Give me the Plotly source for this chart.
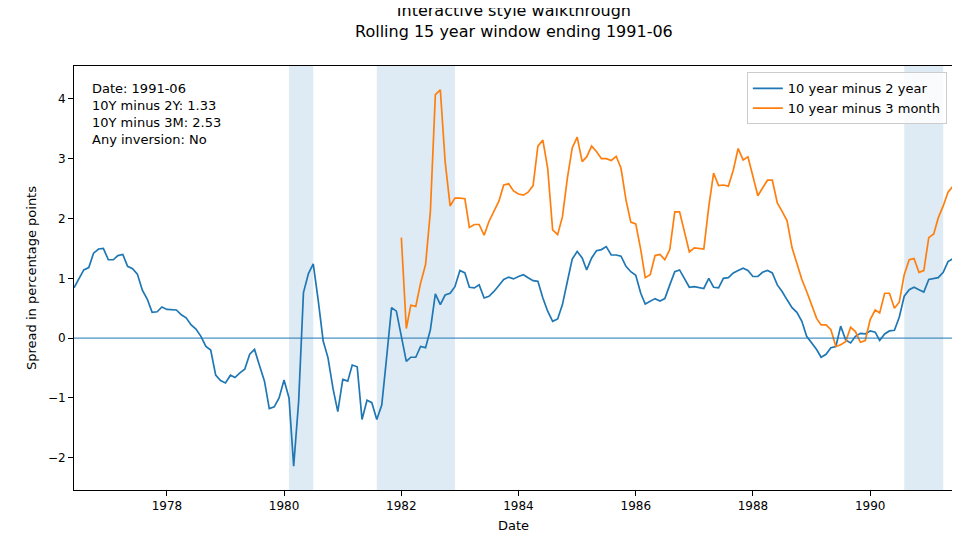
import pandas as pd
import plotly.graph_objects as go

# ---------------------------------------------------------------------------
# Data (monthly)
# ---------------------------------------------------------------------------
dates = pd.date_range("1976-06-01", "1991-06-01", freq="MS")

spread_10y2y = [
    0.84, 0.98, 1.14, 1.18, 1.42, 1.49, 1.50, 1.31, 1.31, 1.38,
    1.40, 1.20, 1.16, 1.07, 0.80, 0.65, 0.43, 0.44, 0.52, 0.48,
    0.48, 0.47, 0.39, 0.34, 0.22, 0.15, 0.03, -0.14, -0.20, -0.62,
    -0.71, -0.75, -0.62, -0.66, -0.58, -0.52, -0.27, -0.19, -0.46, -0.72,
    -1.18, -1.15, -1.00, -0.70, -1.00, -2.14, -1.06, 0.76, 1.08, 1.24,
    0.63, -0.05, -0.33, -0.84, -1.23, -0.69, -0.72, -0.45, -0.48, -1.36,
    -1.04, -1.08, -1.36, -1.12, -0.33, 0.51, 0.45,
    # 1982-01 onwards
    0.00, -0.39, -0.32, -0.32, -0.14, -0.16, 0.14, 0.74, 0.56, 0.72,
    0.75, 0.86, 1.13, 1.09, 0.85, 0.84, 0.89, 0.67, 0.70, 0.78,
    0.88, 0.98, 1.02, 0.99, 1.03, 1.06, 1.01, 0.96, 0.95, 0.67,
    0.45, 0.28, 0.32, 0.56, 0.95, 1.32, 1.45, 1.34, 1.14, 1.34,
    1.46, 1.48, 1.53, 1.39, 1.39, 1.37, 1.20, 1.11, 1.05, 0.75,
    0.57, 0.61, 0.66, 0.62, 0.66,
    # 1986-08 onwards
    0.89, 1.11, 1.14, 0.98, 0.85, 0.86, 0.85, 0.83, 1.00, 0.85,
    0.84, 1.00, 1.01, 1.09, 1.13, 1.17, 1.13, 1.03, 1.03, 1.10,
    1.13, 1.09, 0.89, 0.78, 0.64, 0.51, 0.43, 0.28, 0.03, -0.08,
    -0.19, -0.32, -0.27, -0.16, -0.14, 0.20, -0.03, -0.08, 0.03, 0.08,
    0.07, 0.12, 0.10, -0.04, 0.07, 0.12, 0.13, 0.35, 0.70, 0.81,
    0.85, 0.81, 0.77, 0.98, 0.99, 1.01, 1.10, 1.28, 1.33,
]

spread_10y3m = [None] * 67 + [
    1.68, 0.16, 0.55, 0.53, 0.92, 1.23, 2.12, 4.07, 4.15, 2.95,
    2.21, 2.34, 2.34, 2.33, 1.85, 1.90, 1.90, 1.72, 1.95, 2.12,
    2.29, 2.56, 2.58, 2.46, 2.41, 2.39, 2.44, 2.55, 3.21, 3.31,
    2.84, 1.81, 1.73, 2.03, 2.68, 3.18, 3.36, 2.95, 3.03, 3.21,
    3.12, 3.00, 3.00, 2.97, 3.04, 2.84, 2.31, 1.94, 1.91, 1.48,
    1.01, 1.06, 1.38, 1.40, 1.31,
    1.48, 2.11, 2.11, 1.78, 1.44, 1.51, 1.50, 1.49, 2.20, 2.76,
    2.55, 2.56, 2.54, 2.81, 3.17, 2.98, 3.03, 2.68, 2.38, 2.51,
    2.64, 2.64, 2.26, 2.12, 1.96, 1.51, 1.23, 0.98, 0.78, 0.56,
    0.33, 0.22, 0.22, 0.14, -0.14, -0.11, -0.06, 0.18, 0.11, -0.07,
    -0.04, 0.31, 0.47, 0.42, 0.75, 0.75, 0.50, 0.60, 1.06, 1.31,
    1.33, 1.10, 1.13, 1.68, 1.74, 2.01, 2.21, 2.44, 2.54,
]

recession_starts = ["1980-02-01", "1981-08-01", "1990-08-01"]
recession_ends = ["1980-07-01", "1982-12-01", "1991-04-01"]

x_ticks = ["1978-01-01", "1980-01-01", "1982-01-01", "1984-01-01", "1986-01-01", "1988-01-01", "1990-01-01"]

info_lines = ["Date: 1991-06", "10Y minus 2Y: 1.33", "10Y minus 3M: 2.53", "Any inversion: No"]

# ---------------------------------------------------------------------------
# Figure
# ---------------------------------------------------------------------------
fig = go.Figure()

for s, e in zip(recession_starts, recession_ends):
    fig.add_vrect(x0=s, x1=e, fillcolor="#1f77b4", opacity=0.15, line_width=0, layer="below")

fig.add_hline(y=0, line_color="#1f77b4", line_width=1)

fig.add_trace(go.Scatter(x=dates, y=spread_10y2y, mode="lines", name="10 year minus 2 year",
                         line=dict(color="#1f77b4", width=1.7)))
fig.add_trace(go.Scatter(x=dates, y=spread_10y3m, mode="lines", name="10 year minus 3 month",
                         line=dict(color="#ff7f0e", width=1.7)))

fig.add_annotation(x=0.018, y=0.97, xref="paper", yref="paper", xanchor="left", yanchor="top",
                   text="<br>".join(info_lines), showarrow=False, align="left",
                   font=dict(size=13, color="black"))

axis_common = dict(showline=True, linecolor="black", mirror=True, ticks="outside",
                   tickcolor="black", showgrid=False, zeroline=False, automargin=False,
                   tickfont=dict(size=12, color="black"))

fig.update_xaxes(range=[dates[0], dates[-1]], tickvals=x_ticks, tickformat="%Y",
                 title=dict(text="Date", font=dict(size=13), standoff=8), **axis_common)
fig.update_yaxes(range=[-2.54, 4.55], dtick=1, tickformat="d",
                 title=dict(text="Spread in percentage points", font=dict(size=13), standoff=8),
                 **axis_common)

fig.update_layout(
    width=960, height=540,
    paper_bgcolor="white", plot_bgcolor="white",
    font=dict(family="DejaVu Sans", color="black"),
    title=dict(text="Interactive style walkthrough<br>Rolling 15 year window ending 1991-06",
               x=0.527, xanchor="center", y=0.985, yanchor="top", font=dict(size=16)),
    margin=dict(l=66, r=15, t=58, b=58),
    legend=dict(x=0.993, y=0.985, xanchor="right", yanchor="top", bgcolor="rgba(255,255,255,0.8)",
                bordercolor="#cccccc", borderwidth=1, font=dict(size=13)),
)

fig.write_html("out.html")
